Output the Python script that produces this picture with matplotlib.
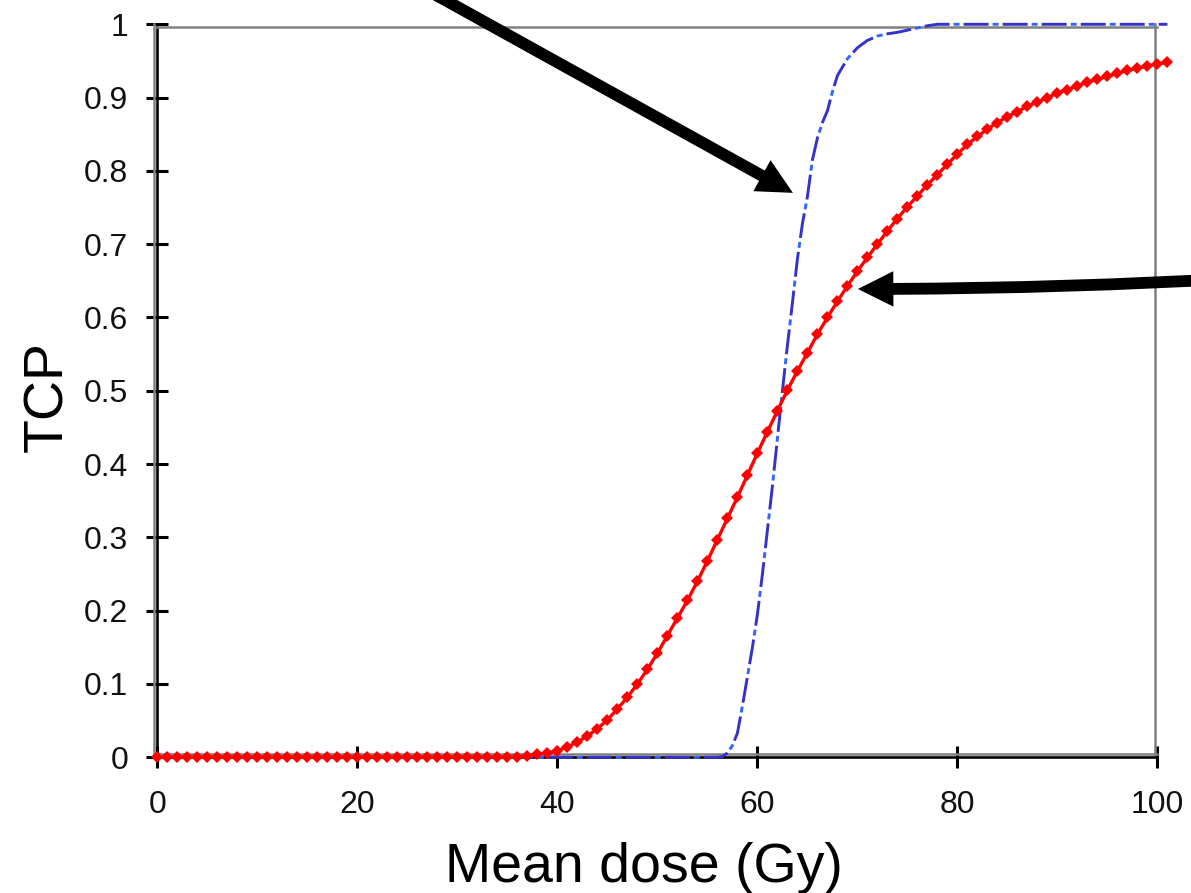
import matplotlib
matplotlib.use("Agg")
import matplotlib.pyplot as plt
from matplotlib.transforms import ScaledTranslation

plt.rcParams['font.family'] = ['Liberation Sans', 'DejaVu Sans']
plt.rcParams['lines.scale_dashes'] = False

# TCP curve, population model (red), 1 Gy steps from 0 to 101 Gy
dose_red = list(range(0, 102))
tcp_red = [0.0] * 36 + [
    0.001, 0.002, 0.004, 0.006, 0.009, 0.014, 0.021, 0.029, 0.039, 0.051,   # 36-45
    0.066, 0.082, 0.100, 0.120, 0.142, 0.166, 0.190, 0.214, 0.240, 0.268,   # 46-55
    0.297, 0.326, 0.355, 0.385, 0.415, 0.444, 0.473, 0.501, 0.527, 0.552,   # 56-65
    0.577, 0.600, 0.622, 0.643, 0.663, 0.682, 0.700, 0.718, 0.735, 0.751,   # 66-75
    0.766, 0.781, 0.795, 0.809, 0.823, 0.836, 0.847, 0.857, 0.866, 0.874,   # 76-85
    0.881, 0.888, 0.894, 0.900, 0.906, 0.911, 0.916, 0.921, 0.925, 0.929,   # 86-95
    0.933, 0.937, 0.940, 0.943, 0.946, 0.948,                               # 96-101
]

# TCP curve, individual tumour (blue)
dose_blue = [0, 56, 56.5, 57, 57.5, 58, 58.5, 59, 59.5, 60, 60.5, 61, 61.5, 62,
             62.5, 63, 63.5, 64, 64.5, 65, 65.5, 66, 66.5, 67, 67.5, 68, 69, 70,
             71, 72, 73, 74, 75, 76, 77, 78, 101]
tcp_blue = [0.0, 0.0, 0.001, 0.006, 0.016, 0.033, 0.070, 0.110, 0.150, 0.195,
            0.250, 0.310, 0.370, 0.435, 0.500, 0.562, 0.620, 0.680, 0.728, 0.765,
            0.815, 0.845, 0.866, 0.882, 0.908, 0.930, 0.953, 0.968, 0.978, 0.984,
            0.987, 0.989, 0.992, 0.995, 0.998, 1.0, 1.0]

x_ticks = [0, 20, 40, 60, 80, 100]
y_ticks = [0, 0.1, 0.2, 0.3, 0.4, 0.5, 0.6, 0.7, 0.8, 0.9, 1]
y_tick_labels = ['0', '0.1', '0.2', '0.3', '0.4', '0.5', '0.6', '0.7', '0.8', '0.9', '1']

fig = plt.figure(figsize=(11.91, 8.93), dpi=100)
ax = fig.add_axes([0.1322, 0.1520, 0.8396, 0.8208])

# blue dash-dot: dark dashes with lighter dots in between
ax.plot(dose_blue, tcp_blue, color='#3333cc', lw=2.1,
        linestyle=(0, (18, 10.1)), clip_on=False, zorder=3)
ax.plot(dose_blue, tcp_blue, color='#3366ff', lw=2.1,
        linestyle=(7.2, (4.3, 23.8)), clip_on=False, zorder=3)
ax.plot(dose_red, tcp_red, color='#ff0000', lw=2.4, marker='D', ms=5.8,
        mew=0, clip_on=False, zorder=4)

ax.set_xlim(0, 100)
ax.set_ylim(0, 1)
ax.set_xticks(x_ticks)
ax.set_xticklabels([str(t) for t in x_ticks])
ax.set_yticks(y_ticks)
ax.set_yticklabels(y_tick_labels)
ax.tick_params(direction='inout', length=15.8, width=2.2, color='black',
               labelsize=23, labelcolor='#111111')
ax.tick_params(axis='y', pad=13)
ax.tick_params(axis='x', pad=16)

# frame: grey box, black left/bottom axis lines
for side in ['top', 'right']:
    ax.spines[side].set_color('#808080')
    ax.spines[side].set_linewidth(1.8)
ax.spines['top'].set_position(('outward', -1.7))
ax.spines['right'].set_position(('outward', -1.5))
for side in ['left', 'bottom']:
    ax.spines[side].set_color('black')
    ax.spines[side].set_linewidth(1.9)
left_off = ax.transAxes + ScaledTranslation(-0.03, 0, fig.dpi_scale_trans)
bottom_off = ax.transAxes + ScaledTranslation(0, 0.03, fig.dpi_scale_trans)
ax.plot([0, 0], [0, 1], transform=left_off, color='#808080', lw=1.8,
        clip_on=False, zorder=2.4)
ax.plot([0, 1], [0, 0], transform=bottom_off, color='#808080', lw=1.8,
        clip_on=False, zorder=2.4)

ax.set_xlabel('Mean dose (Gy)', fontsize=40, color='black')
ax.xaxis.set_label_coords(0.4865, -0.1156)
ax.set_ylabel('TCP', fontsize=40, color='black')
ax.yaxis.set_label_coords(-0.0837, 0.4915)

arrow_style = 'simple,head_length=25.5,head_width=25.5,tail_width=8.5'
ax.annotate('', xy=(63.55, 0.770), xytext=(21.54, 1.0877),
            annotation_clip=False,
            arrowprops=dict(arrowstyle=arrow_style, mutation_scale=1,
                            color='black', lw=0, shrinkA=0, shrinkB=0))
ax.annotate('', xy=(70.05, 0.6389), xytext=(108.25, 0.6535),
            annotation_clip=False,
            arrowprops=dict(arrowstyle=arrow_style, mutation_scale=1,
                            color='black', lw=0, shrinkA=0, shrinkB=0,
                            connectionstyle='arc3,rad=-0.0144'))

fig.savefig('out.png', dpi=100)
